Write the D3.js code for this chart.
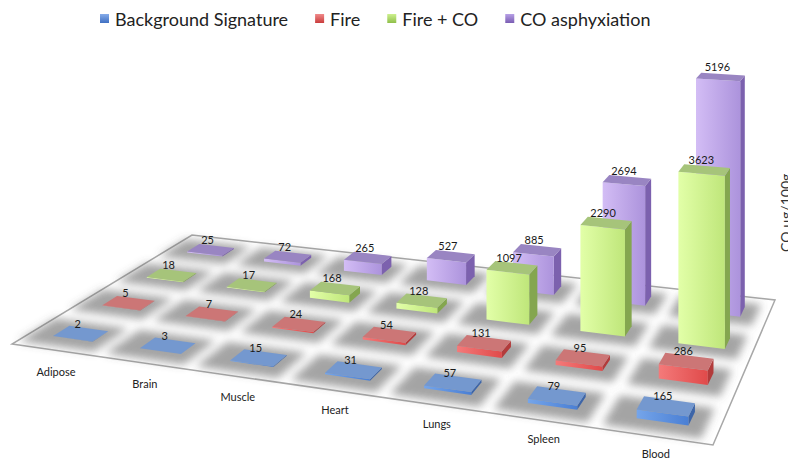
<!DOCTYPE html>
<html><head><meta charset="utf-8">
<script src="https://cdn.jsdelivr.net/npm/d3@7"></script>
<style>body{margin:0;background:#fff} svg{display:block}</style>
</head><body>
<svg id="chart" width="788" height="461"></svg>
<script>
// Tissue categories along the floor, series rows from front to back
const categories = ["Adipose", "Brain", "Muscle", "Heart", "Lungs", "Spleen", "Blood"];
const seriesNames = ["Background Signature", "Fire", "Fire + CO", "CO asphyxiation"];
const background = [2, 3, 15, 31, 57, 79, 165];
const fire = [5, 7, 24, 54, 131, 95, 286];
const fireCO = [18, 17, 168, 128, 1097, 2290, 3623];
const coAsphyxiation = [25, 72, 265, 527, 885, 2694, 5196];
const axisTitle = "CO µg/100g";

const seriesValues = [background, fire, fireCO, coAsphyxiation];

const palette = [
  { front: ["#75a5ea", "#4a7fd4"], side: "#3d65a8", top: "#7498cf", key: ["#86acea", "#3f70c2"] },
  { front: ["#f47a7a", "#e04a4a"], side: "#b23b3b", top: "#cc7676", key: ["#f08a8a", "#c93c3c"] },
  { front: ["#e2ffa8", "#bfe67a"], side: "#84a64f", top: "#a6c47a", key: ["#cdf08e", "#8fbf4a"] },
  { front: ["#d3bdf5", "#ac93dc"], side: "#7c61ae", top: "#9985c2", key: ["#b7a0e6", "#7a5db3"] }
];

const svg = d3.select("#chart");
const FONT = "Lato, 'Open Sans', sans-serif";

// Floor plane: unit square (u across tissues, v into depth) mapped to a perspective quad
const floorQuad = [[12, 344], [713, 445], [775, 300], [192, 235]];
function squareToQuad(q) {
  const [p0, p1, p2, p3] = q;
  const dx1 = p1[0] - p2[0], dy1 = p1[1] - p2[1];
  const dx2 = p3[0] - p2[0], dy2 = p3[1] - p2[1];
  const dx3 = p0[0] - p1[0] + p2[0] - p3[0], dy3 = p0[1] - p1[1] + p2[1] - p3[1];
  const den = dx1 * dy2 - dx2 * dy1;
  const g = (dx3 * dy2 - dx2 * dy3) / den;
  const h = (dx1 * dy3 - dx3 * dy1) / den;
  return {
    a: p1[0] - p0[0] + g * p1[0], b: p3[0] - p0[0] + h * p3[0], c: p0[0],
    d: p1[1] - p0[1] + g * p1[1], e: p3[1] - p0[1] + h * p3[1], f: p0[1], g, h
  };
}
const H = squareToQuad(floorQuad);
function project(u, v, height) {
  const w = H.g * u + H.h * v + 1;
  const x = (H.a * u + H.b * v + H.c) / w;
  const y = (H.d * u + H.e * v + H.f) / w;
  return [x, y - (height || 0) / w, w];
}

// Scales
const uScale = d3.scaleBand().domain(categories).range([0, 1]).paddingInner(0.54).paddingOuter(0.27);
const vScale = d3.scaleBand().domain(seriesNames).range([0, 1]).paddingInner(0.68).paddingOuter(0.34);
const hScale = d3.scaleLinear().domain([0, 6000]).range([0, 6000 * 0.047]);

// Gradients and shadow blur
const defs = svg.append("defs");
palette.forEach((p, i) => {
  const lg = defs.append("linearGradient").attr("id", "front" + i).attr("x1", 0).attr("x2", 1).attr("y1", 0).attr("y2", 0);
  lg.append("stop").attr("offset", "0%").attr("stop-color", p.front[0]);
  lg.append("stop").attr("offset", "100%").attr("stop-color", p.front[1]);
  const kg = defs.append("linearGradient").attr("id", "key" + i).attr("x1", 0).attr("x2", 0).attr("y1", 0).attr("y2", 1);
  kg.append("stop").attr("offset", "0%").attr("stop-color", p.key[0]);
  kg.append("stop").attr("offset", "100%").attr("stop-color", p.key[1]);
});
defs.append("filter").attr("id", "soft").attr("x", "-50%").attr("y", "-50%").attr("width", "200%").attr("height", "200%")
  .append("feGaussianBlur").attr("stdDeviation", 4);

// Floor
const pts = a => a.map(p => p[0].toFixed(2) + "," + p[1].toFixed(2)).join(" ");
svg.append("polygon")
  .attr("points", pts([project(0, 0), project(1, 0), project(1, 1), project(0, 1)]))
  .attr("fill", "#fff").attr("stroke", "#a8a8a8").attr("stroke-width", 1.5);

// Build bar geometry
const bars = [];
seriesNames.forEach((s, j) => {
  categories.forEach((c, i) => {
    const value = seriesValues[j][i];
    const u0 = uScale(c), u1 = u0 + uScale.bandwidth();
    const v0 = vScale(s), v1 = v0 + vScale.bandwidth();
    const hv = hScale(value);
    const A = project(u0, v0), B = project(u1, v0), C = project(u1, v1), D = project(u0, v1);
    const At = project(u0, v0, hv), Bt = project(u1, v0, hv), Ct = project(u1, v1, hv), Dt = project(u0, v1, hv);
    const uc = (u0 + u1) / 2, vc = (v0 + v1) / 2;
    const center = project(uc, vc);
    const top = project(uc, vc, hv);
    const eu = uScale.bandwidth() * 0.55, ev = vScale.bandwidth() * 0.75;
    const shadow = [project(u0 - eu, v0 - ev), project(u1 + eu * 0.6, v0 - ev), project(u1 + eu * 0.6, v1 + ev * 0.6), project(u0 - eu, v1 + ev * 0.6)];
    bars.push({ j, i, value, A, B, C, D, At, Bt, Ct, Dt, depth: center[2], top, shadow });
  });
});
bars.sort((a, b) => b.depth - a.depth || a.i - b.i);

// Soft floor shadows under each bar
svg.append("g").attr("filter", "url(#soft)")
  .selectAll("polygon").data(bars).join("polygon")
  .attr("points", d => pts(d.shadow))
  .attr("fill", "#5a5a5a").attr("opacity", 0.55);

// Bars, far to near
const barG = svg.append("g").selectAll("g").data(bars).join("g");
barG.append("polygon").attr("points", d => pts([d.B, d.C, d.Ct, d.Bt])).attr("fill", d => palette[d.j].side);
barG.append("polygon").attr("points", d => pts([d.A, d.B, d.Bt, d.At])).attr("fill", d => `url(#front${d.j})`);
barG.append("polygon").attr("points", d => pts([d.At, d.Bt, d.Ct, d.Dt])).attr("fill", d => palette[d.j].top);
barG.append("text")
  .attr("x", d => d.top[0] - 3).attr("y", d => d.top[1] - 6)
  .attr("text-anchor", "middle").attr("font-family", FONT).attr("font-size", 11).attr("fill", "#1a1a1a")
  .text(d => d.value);

// Category labels in front of the floor
svg.append("g").selectAll("text").data(categories).join("text")
  .attr("x", c => project(uScale(c) + uScale.bandwidth() / 2, 0)[0] + 1)
  .attr("y", c => {
    const u = uScale(c) + uScale.bandwidth() / 2;
    return project(u, 0)[1] + 26 - 5 * u;
  })
  .attr("text-anchor", "middle").attr("font-family", FONT).attr("font-size", 11).attr("fill", "#222")
  .text(c => c);

// Vertical axis title, mostly beyond the right edge
svg.append("text")
  .attr("transform", "translate(791,252) rotate(-90)")
  .attr("font-family", FONT).attr("font-size", 14).attr("fill", "#333")
  .text(axisTitle);

// Legend
const legend = svg.append("g");
let lx = 100;
seriesNames.forEach((s, i) => {
  legend.append("rect").attr("x", lx).attr("y", 14).attr("width", 9).attr("height", 9).attr("fill", `url(#key${i})`);
  const t = legend.append("text").attr("x", lx + 15).attr("y", 26)
    .attr("font-family", FONT).attr("font-size", 18).attr("fill", "#222").text(s);
  lx += 15 + t.node().getComputedTextLength() + 27;
});
</script>
</body></html>
